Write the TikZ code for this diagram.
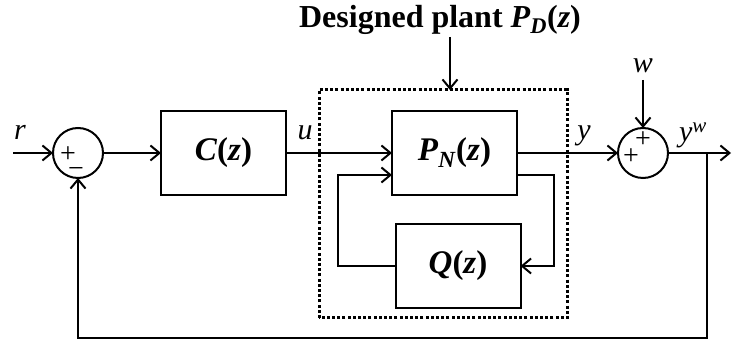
\documentclass[tikz,border=0pt]{standalone}
\usepackage{fontspec}
\setmainfont{Liberation Serif}
\usetikzlibrary{arrows.meta,positioning,calc}

\newcommand{\bi}[1]{\textbf{\textit{#1}}}

\begin{document}
\begin{tikzpicture}[
  x=1pt,y=1pt,
  node distance=29pt and 58pt,
  block/.style={rectangle,draw,line width=2pt,minimum width=125pt,minimum height=84pt,
                inner sep=0pt,outer sep=0pt,align=center,font=\fontsize{33}{33}\selectfont},
  sumnode/.style={circle,draw,line width=2pt,minimum size=50pt,inner sep=0pt,outer sep=0pt},
  sgn/.style={inner sep=0pt,font=\fontsize{28}{28}\selectfont},
  lbl/.style={inner sep=0pt,anchor=base,font=\fontsize{30}{30}\selectfont\itshape},
  wire/.style={line width=2pt},
  arr/.style={-{Straight Barb[length=9pt,width=15pt]}},
  frame/.style={line width=3pt,dash pattern=on 3pt off 2.2pt}
]
  \useasboundingbox (0,0) rectangle (732,340);
  % main blocks
  \node[sumnode] (sum1) at (78,187) {};
  \node[block,right=58pt of sum1] (ctrl) {\bi{C}\textbf{(}\bi{z}\textbf{)}};
  \node[block,right=106pt of ctrl] (plant) {\bi{P}\textsubscript{\bi{N}}\textbf{(}\bi{z}\textbf{)}};
  \node[block,below=29pt of plant,xshift=3.5pt] (qfilt) {\bi{Q}\textbf{(}\bi{z}\textbf{)}};
  \node[sumnode,right=101pt of plant] (sum2) {};
  % signs
  \node[sgn] (s1p) at ($(sum1)+(-10,-2)$) {+};
  \node[sgn] (s1m) at ($(sum1)+(-2,-20)$) {\symbol{"2212}};
  \node[sgn] (s2t) at ($(sum2)+(0,13)$) {+};
  \node[sgn] (s2l) at ($(sum2)+(-12,-4)$) {+};
  % labels
  \node[lbl] (rlab) at (20,200) {r};
  \node[lbl] (ulab) at (305,200) {u};
  \node[lbl] (ylab) at (584,200) {y};
  \node[lbl] (ywlab) at (693,198) {y\textsuperscript{w}};
  \node[lbl] (wlab) at (643,267) {w};
  \node[inner sep=2pt,font=\fontsize{32}{32}\selectfont\bfseries] (title) at (440,320)
    {Designed plant \textit{P}\textsubscript{\textit{D}}(\textit{z})};
  % designed plant frame
  \coordinate (frameSW) at (319,22);
  \coordinate (frameNE) at (567,250);
  \coordinate (frameN) at (450,250);
  \draw[frame] (frameSW) rectangle (frameNE);
  % connectors
  \coordinate (rin) at (13,187);
  \coordinate (wtail) at (643,260);
  \coordinate (yout) at (731,187);
  \coordinate (branch) at (707,187);
  \coordinate (fbk) at (707,2);
  \coordinate (loopR) at (554,165);
  \coordinate (loopL) at (338,165);
  \draw[wire,arr] (rin) -- (sum1);
  \draw[wire,arr] (sum1) -- (ctrl);
  \draw[wire,arr] (ctrl) -- (plant);
  \draw[wire,arr] (plant) -- (sum2);
  \draw[wire,arr] (wtail) -- (sum2);
  \draw[wire,arr] (sum2) -- (yout);
  \draw[wire,arr] (branch) -- (fbk) -| (sum1.south);
  \draw[wire,arr] (plant.east |- loopR) -- (loopR) |- (qfilt.east);
  \draw[wire,arr] (qfilt.west) -| (loopL) -- (plant.west |- loopL);
  \draw[wire,arr] (title.south -| frameN) -- (frameN);
\end{tikzpicture}
\end{document}
